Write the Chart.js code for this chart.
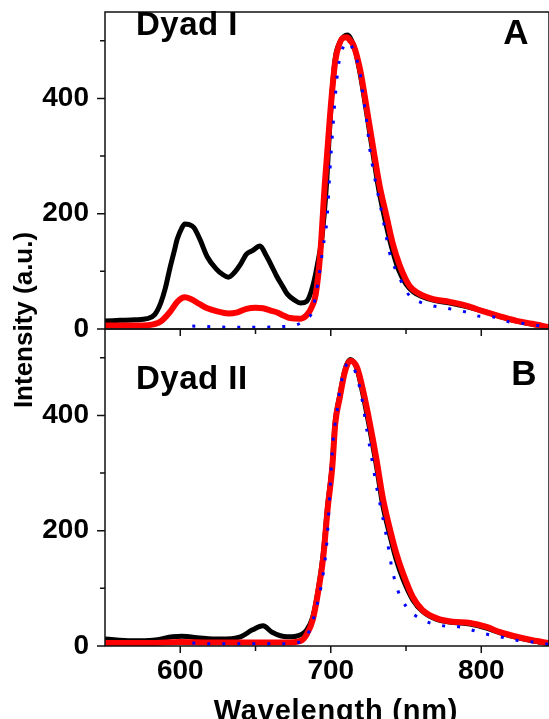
<!DOCTYPE html>
<html>
<head>
<meta charset="utf-8">
<script src="https://cdn.jsdelivr.net/npm/chart.js@4.4.1/dist/chart.umd.min.js"></script>
<style>
  html, body { margin: 0; padding: 0; background: #fff; overflow: hidden; }
</style>
</head>
<body>
<canvas id="myChart" width="549" height="719"></canvas>
<script>
var FONT = '"Liberation Sans", Arial, Helvetica, sans-serif';

// Dyad I (panel A)
var wlA_black = [550, 560, 570, 578, 583, 587, 590, 593, 596, 598, 601, 603, 606, 609, 613, 618, 624, 628, 632, 636, 640, 644, 648, 653, 657, 661, 664, 668, 671, 676, 680, 684, 688, 691, 694, 697, 700, 703, 706, 709, 711, 713, 716, 719, 722, 725, 728, 732, 736, 740, 745, 750, 755, 760, 768, 779, 790, 801, 812, 823, 834, 845];
var intA_black = [14, 15, 16, 18, 25, 45, 70, 104, 135, 156, 175, 182, 181, 176, 156, 125, 104, 95, 90, 98, 112, 130, 136, 144, 128, 108, 92, 74, 61, 50, 45, 48, 74, 110, 156, 245, 380, 470, 497, 508, 510, 505, 486, 450, 405, 355, 305, 240, 190, 146, 103, 78, 64, 57, 50, 45, 39, 31, 22, 14, 8, 3];
var wlA_red = [550, 575, 582, 587, 593, 598, 603, 607, 613, 618, 624, 632, 638, 644, 650, 655, 660, 664, 669, 673, 680, 684, 687, 690, 693, 696, 699.5, 703, 706, 708, 711, 713, 715, 719.5, 724, 728, 732.5, 737, 741, 746, 752.5, 759, 768, 779, 790.5, 801, 812.5, 823.5, 834, 845];
var intA_red = [6, 6, 8, 13, 29, 47, 55, 52, 43, 36, 31, 27, 29, 35, 37, 36, 32, 29, 23, 19, 18, 24, 36, 60, 130, 250, 370, 465, 496, 505, 506, 500, 493, 450, 381, 317, 248, 196, 150, 109, 74, 61, 52, 47, 40, 31, 22, 14, 9, 3];
var wlA_blue = [608, 620, 635, 650, 665, 678, 684, 687.5, 691.5, 695, 697.5, 699.5, 701, 703, 705, 707.5, 711.5, 716, 719.5, 721.5, 724, 726, 729, 732.5, 736, 739, 746, 752.5, 759, 768, 779, 790.5, 799, 808, 819, 830, 845];
var intA_blue = [5, 4, 3, 3, 4, 8, 18, 29, 81, 144, 190, 277, 334, 403, 455, 484, 498, 476, 444, 403, 358, 311, 265, 220, 173, 133, 87, 57, 47, 40, 35, 29, 22, 21, 12, 9, 3];

// Dyad II (panel B)
var wlB_black = [550, 568, 582, 595, 601, 613, 626, 640, 648, 655, 661, 671, 677, 684, 688, 691.5, 695, 698, 701, 703, 706, 709.5, 713, 717.5, 721.5, 726, 730.5, 734.5, 739, 743.5, 748, 754.5, 761, 770.5, 781, 792.5, 803.5, 812.5, 823.5, 834, 845];
var intB_black = [12, 9, 10, 16, 17, 14, 12, 16, 28, 35, 24, 16, 17, 28, 50, 95, 160, 245, 315, 390, 435, 480, 497, 480, 435, 375, 310, 245, 195, 150, 116, 80, 60, 46, 41, 38, 31, 23, 15, 9, 4];
var wlB_red = [550, 580, 600, 620, 650, 670, 680, 684, 688, 691.5, 695, 698, 701, 703, 706, 709.5, 713, 717.5, 721.5, 726, 730.5, 734.5, 739, 743.5, 748, 754.5, 761, 770.5, 781, 792.5, 803.5, 812.5, 823.5, 834, 845];
var intB_red = [5, 5, 7, 6, 6, 6, 9, 20, 45, 92, 154, 240, 310, 386, 431, 477, 495, 483, 443, 386, 322, 258, 206, 161, 126, 85, 62, 48, 42, 40, 33, 24, 16, 10, 5];
var wlB_blue = [608, 620, 635, 650, 665, 678, 683, 686, 690.5, 695, 697.5, 699.5, 701.5, 704, 706, 709.5, 713, 717.5, 721, 724, 727.5, 730.5, 734, 737.5, 740.5, 744.5, 750.5, 759, 772.5, 786, 801, 812.5, 823.5, 834, 845];
var intB_blue = [5, 4, 4, 4, 4, 6, 14, 28, 67, 126, 183, 270, 356, 403, 443, 483, 491, 466, 425, 374, 322, 275, 230, 183, 137, 97, 67, 48, 36, 33, 22, 16, 10, 7, 3];

var xMajor = [600, 700, 800];
var xMinor = [650, 750];
var yMajor = [0, 200, 400];
var yMinor = [100, 300, 500];

function pts(wl, val) {
    return wl.map(function (x, i) { return {x: x, y: val[i]}; });
}

function series(wl, val, axis, color, width, dash) {
    return {
        data: pts(wl, val),
        yAxisID: axis,
        borderColor: color,
        borderWidth: width,
        borderDash: dash || [],
        pointRadius: 0,
        fill: false,
        cubicInterpolationMode: 'monotone'
    };
}

function noPad(s) {
    s.paddingTop = 0; s.paddingBottom = 0; s.paddingLeft = 0; s.paddingRight = 0;
}

var tickFont = {family: FONT, size: 28, weight: 'bold'};

function yScale() {
    return {
        type: 'linear',
        position: 'left',
        stack: 'dyad',
        stackWeight: 1,
        min: 0,
        max: 550,
        afterBuildTicks: function (s) { s.ticks = yMajor.map(function (v) { return {value: v}; }); },
        afterFit: function (s) { s.width = 105; noPad(s); },
        grid: {display: false, drawTicks: false},
        border: {display: false},
        ticks: {font: tickFont, color: '#000', padding: 16}
    };
}

// frame, tick marks, axis titles and panel labels
var framePlugin = {
    id: 'frame',
    afterDatasetsDraw: function (chart) {
        var ctx = chart.ctx;
        var x = chart.scales.x, yA = chart.scales.yA, yB = chart.scales.yB;
        ctx.save();
        ctx.strokeStyle = '#111';
        ctx.lineWidth = 1.5;
        [yA, yB].forEach(function (y) {
            ctx.strokeRect(x.left, y.top, x.right - x.left, y.bottom - y.top);
            ctx.beginPath();
            yMajor.forEach(function (v) { var p = y.getPixelForValue(v); ctx.moveTo(x.left, p); ctx.lineTo(x.left - 8, p); });
            yMinor.forEach(function (v) { var p = y.getPixelForValue(v); ctx.moveTo(x.left, p); ctx.lineTo(x.left - 5, p); });
            xMajor.forEach(function (v) { var p = x.getPixelForValue(v); ctx.moveTo(p, y.bottom); ctx.lineTo(p, y.bottom + 7); });
            xMinor.forEach(function (v) { var p = x.getPixelForValue(v); ctx.moveTo(p, y.bottom); ctx.lineTo(p, y.bottom + 5); });
            ctx.stroke();
        });

        ctx.fillStyle = '#000';
        ctx.textBaseline = 'alphabetic';
        ctx.font = 'bold 33px ' + FONT;
        ctx.letterSpacing = '0.5px';
        ctx.textAlign = 'left';
        ctx.fillText('Dyad I', x.left + 31, yA.top + 23);
        ctx.fillText('Dyad II', x.left + 31, yB.top + 60);
        ctx.letterSpacing = '0px';
        ctx.font = 'bold 35px ' + FONT;
        ctx.textAlign = 'center';
        ctx.fillText('A', x.right - 33, yA.top + 32);
        ctx.fillText('B', x.right - 25, yB.top + 56);

        // x axis title
        ctx.font = 'bold 29px ' + FONT;
        ctx.letterSpacing = '0.8px';
        ctx.fillText('Wavelength (nm)', (x.left + x.right) / 2 + 9, 720);
        ctx.letterSpacing = '0px';

        // y axis title across both panels
        ctx.font = 'bold 26px ' + FONT;
        ctx.translate(25, (yA.top + yB.bottom) / 2 - 9);
        ctx.rotate(-Math.PI / 2);
        ctx.textBaseline = 'middle';
        ctx.fillText('Intensity (a.u.)', 0, 0);
        ctx.restore();
    }
};

var myChart = new Chart(document.getElementById('myChart').getContext('2d'), {
    type: 'line',
    data: {
        datasets: [
            series(wlA_blue, intA_blue, 'yA', '#0000ff', 3, [3, 12]),
            series(wlA_red, intA_red, 'yA', '#ff0000', 6),
            series(wlA_black, intA_black, 'yA', '#000000', 5),
            series(wlB_blue, intB_blue, 'yB', '#0000ff', 3, [3, 12]),
            series(wlB_red, intB_red, 'yB', '#ff0000', 6),
            series(wlB_black, intB_black, 'yB', '#000000', 5)
        ]
    },
    options: {
        responsive: false,
        animation: false,
        layout: {padding: {top: 12, left: 0, right: 0, bottom: 0}},
        scales: {
            x: {
                type: 'linear',
                position: 'bottom',
                min: 550,
                max: 845,
                afterBuildTicks: function (s) { s.ticks = xMajor.map(function (v) { return {value: v}; }); },
                afterFit: function (s) { s.height = 73; noPad(s); },
                grid: {display: false, drawTicks: false},
                border: {display: false},
                ticks: {font: tickFont, color: '#000', padding: 8, maxRotation: 0}
            },
            yB: yScale(),
            yA: yScale()
        },
        plugins: {
            legend: {display: false},
            tooltip: {enabled: false}
        }
    },
    plugins: [framePlugin]
});
</script>
</body>
</html>
